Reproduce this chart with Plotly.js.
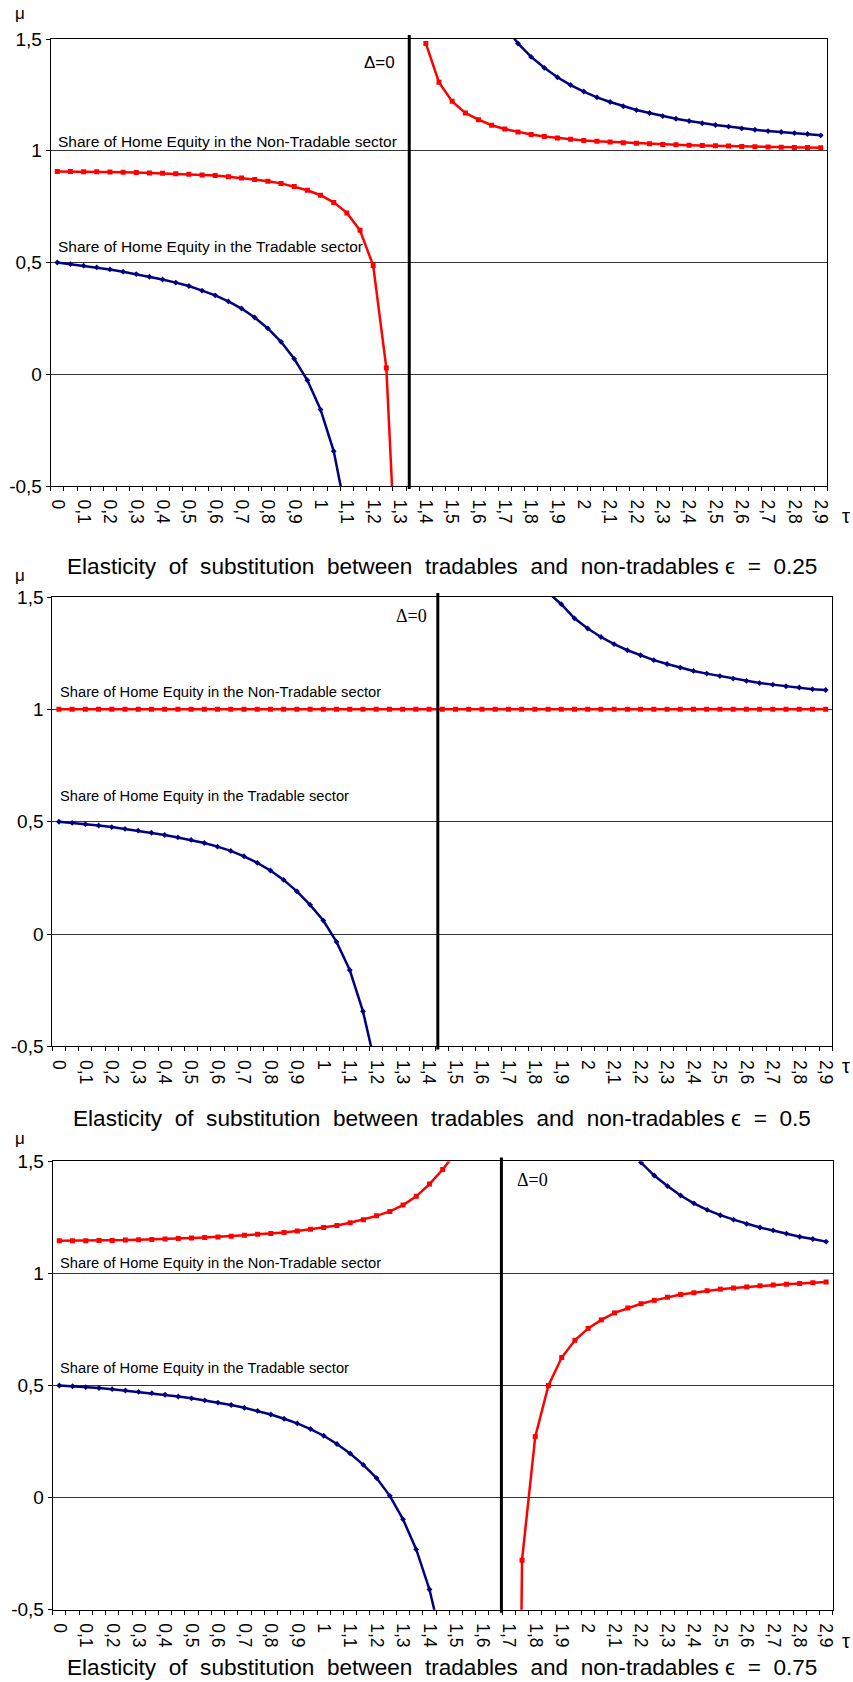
<!DOCTYPE html>
<html>
<head>
<meta charset="utf-8">
<script src="https://cdn.plot.ly/plotly-3.0.1.min.js"></script>
<style>
html,body{margin:0;padding:0;background:#ffffff;}
#chart{width:853px;height:1682px;}
</style>
</head>
<body>
<div id="chart"></div>
<script>
// ---------- data ----------
const tau = [0,0.05,0.1,0.15,0.2,0.25,0.3,0.35,0.4,0.45,0.5,0.55,0.6,0.65,0.7,0.75,0.8,0.85,0.9,0.95,
             1,1.05,1.1,1.15,1.2,1.25,1.3,1.35,1.4,1.45,1.5,1.55,1.6,1.65,1.7,1.75,1.8,1.85,1.9,1.95,
             2,2.05,2.1,2.15,2.2,2.25,2.3,2.35,2.4,2.45,2.5,2.55,2.6,2.65,2.7,2.75,2.8,2.85,2.9];

const xTickVals = [0,0.1,0.2,0.3,0.4,0.5,0.6,0.7,0.8,0.9,1,1.1,1.2,1.3,1.4,1.5,1.6,1.7,1.8,1.9,
                   2,2.1,2.2,2.3,2.4,2.5,2.6,2.7,2.8,2.9];
const xTickText = ['0','0,1','0,2','0,3','0,4','0,5','0,6','0,7','0,8','0,9',
                   '1','1,1','1,2','1,3','1,4','1,5','1,6','1,7','1,8','1,9',
                   '2','2,1','2,2','2,3','2,4','2,5','2,6','2,7','2,8','2,9'];
const yTickVals = [-0.5,0,0.5,1,1.5];
const yTickText = ['-0,5','0','0,5','1','1,5'];

const elasticity = ['0.25','0.5','0.75'];
const deltaZero = [1.337,1.433,1.672];

// epsilon = 0.25
const p1Tradable = [0.500,0.493,0.486,0.478,0.469,0.459,0.448,0.436,0.424,0.410,0.395,0.374,0.353,0.326,0.294,0.254,0.205,0.145,0.069,-0.027,
  -0.158,-0.344,-0.64,null,null,null,null,null,null,null,null,null,null,null,1.56,1.48,1.420,1.371,1.329,1.294,
  1.265,1.239,1.218,1.199,1.182,1.169,1.155,1.143,1.133,1.123,1.115,1.108,1.100,1.094,1.088,1.084,1.079,1.075,1.069];
const p1NonTradable = [0.907,0.907,0.906,0.906,0.905,0.904,0.903,0.901,0.899,0.897,0.895,0.892,0.889,0.884,0.878,0.871,0.864,0.854,0.840,0.823,
  0.801,0.769,0.722,0.644,0.486,0.028,-1.2,null,1.480,1.306,1.221,1.169,1.139,1.114,1.097,1.084,1.073,1.064,1.057,1.051,
  1.046,1.042,1.039,1.036,1.033,1.031,1.028,1.027,1.025,1.024,1.022,1.021,1.019,1.018,1.017,1.016,1.015,1.014,1.013];

// epsilon = 0.5
const p2Tradable = [0.500,0.495,0.489,0.483,0.476,0.468,0.460,0.451,0.441,0.430,0.419,0.405,0.389,0.370,0.346,0.317,0.283,0.241,0.190,0.130,
  0.060,-0.035,-0.160,-0.344,-0.60,null,null,null,null,null,null,null,null,null,null,null,null,1.52,1.468,1.405,
  1.360,1.322,1.290,1.263,1.241,1.219,1.202,1.186,1.171,1.159,1.148,1.137,1.127,1.117,1.110,1.103,1.097,1.090,1.086];
const p2NonTradable = [1,1,1,1,1,1,1,1,1,1,1,1,1,1,1,1,1,1,1,1,
  1,1,1,1,1,1,1,1,1,1,1,1,1,1,1,1,1,1,1,1,
  1,1,1,1,1,1,1,1,1,1,1,1,1,1,1,1,1,1,1];

// epsilon = 0.75
const p3Tradable = [0.500,0.497,0.493,0.489,0.484,0.478,0.472,0.466,0.459,0.451,0.443,0.434,0.424,0.413,0.401,0.387,0.371,0.352,0.331,0.306,
  0.276,0.239,0.197,0.146,0.087,0.008,-0.097,-0.231,-0.41,-0.66,null,null,null,null,null,null,null,null,null,null,
  null,null,null,1.57,1.495,1.437,1.390,1.348,1.313,1.284,1.260,1.240,1.221,1.205,1.192,1.178,1.164,1.154,1.142];
const p3NonTradable = [1.146,1.146,1.146,1.147,1.147,1.149,1.151,1.152,1.154,1.156,1.158,1.161,1.163,1.166,1.170,1.175,1.178,1.183,1.190,1.197,
  1.205,1.214,1.226,1.240,1.257,1.277,1.305,1.344,1.399,1.464,1.54,null,null,null,-6,-0.279,0.272,0.500,0.625,0.702,
  0.755,0.793,0.824,0.846,0.865,0.880,0.894,0.906,0.914,0.923,0.930,0.935,0.940,0.945,0.949,0.952,0.955,0.959,0.962];

const tradableSeries = [p1Tradable, p2Tradable, p3Tradable];
const nonTradableSeries = [p1NonTradable, p2NonTradable, p3NonTradable];

const labelNT = 'Share of Home Equity in the Non-Tradable sector';
const labelT = 'Share of Home Equity in the Tradable sector';
const captionBase = 'Elasticity\u00A0 of\u00A0 substitution\u00A0 between\u00A0 tradables\u00A0 and\u00A0 non-tradables\u00A0\u03f5 \u00A0=\u00A0 ';

// ---------- layout geometry (pixels) ----------
const W = 853, H = 1682;
const fx = v => v / W;
const fy = v => 1 - v / H;
const SANS = 'Liberation Sans, Arial, Helvetica, sans-serif';
const SERIF = 'Liberation Serif, Times New Roman, serif';

const panels = [
  {l:50.7, r:827.3, t:39,    b:486,    mu:[20,14],   tauL:[846,516],  delta:[379,62],   deltaFont:SANS,  deltaSize:17,
   nt:[56.7,141.7], tr:[56.7,246.7], lblSize:15.5, cap:[442,566.8]},
  {l:52.3, r:832.3, t:597,   b:1046.4, mu:[20,576],  tauL:[846,1066], delta:[411,616],  deltaFont:SERIF, deltaSize:18,
   nt:[59.3,691.8], tr:[59.3,796.4], lblSize:14.7, cap:[442,1118.4]},
  {l:52.7, r:832.7, t:1161.4,b:1609.7, mu:[20,1138], tauL:[846,1641], delta:[532,1180], deltaFont:SERIF, deltaSize:18,
   nt:[59.3,1263.1], tr:[59.3,1367.9], lblSize:14.7, cap:[442,1667.3]}
];

const data = [];
const layout = {
  width: W, height: H, autosize: false,
  margin: {l:0, r:0, t:0, b:0, pad:0},
  paper_bgcolor: '#ffffff', plot_bgcolor: '#ffffff',
  showlegend: false,
  font: {family: SANS, color: '#000000'},
  annotations: [], shapes: []
};

panels.forEach((p, i) => {
  const s = i === 0 ? '' : String(i + 1);
  const xa = 'x' + s, ya = 'y' + s;

  data.push({
    x: tau, y: tradableSeries[i], xaxis: xa, yaxis: ya,
    type: 'scatter', mode: 'lines+markers', connectgaps: false,
    line: {color: '#000080', width: 2.5},
    marker: {symbol: 'diamond', size: 4.5, color: '#000080'},
    hoverinfo: 'skip'
  });
  data.push({
    x: tau, y: nonTradableSeries[i], xaxis: xa, yaxis: ya,
    type: 'scatter', mode: 'lines+markers', connectgaps: false,
    line: {color: '#ff0000', width: 2.5},
    marker: {symbol: 'square', size: 5, color: '#ff0000'},
    hoverinfo: 'skip'
  });

  layout['xaxis' + s] = {
    domain: [fx(p.l), fx(p.r)], anchor: ya,
    range: [-0.025, 2.925], fixedrange: true,
    tickmode: 'array', tickvals: xTickVals, ticktext: xTickText,
    tickangle: 90, ticks: 'outside', ticklen: 4, tickcolor: 'rgba(0,0,0,0)',
    ticklabelstandoff: 5,
    tickfont: {family: SANS, size: 17.5, color: '#000000'},
    minor: {tickmode: 'linear', tick0: -0.025, dtick: 0.05, ticks: 'outside', ticklen: 4,
            tickwidth: 1, tickcolor: '#000000', showgrid: false},
    showline: true, linecolor: '#000000', linewidth: 1, mirror: true,
    showgrid: false, zeroline: false
  };
  layout['yaxis' + s] = {
    domain: [fy(p.b), fy(p.t)], anchor: xa,
    range: [-0.5, 1.5], fixedrange: true,
    tickmode: 'array', tickvals: yTickVals, ticktext: yTickText,
    ticks: 'outside', ticklen: 4, tickwidth: 1, tickcolor: '#000000',
    tickfont: {family: SANS, size: 19, color: '#000000'},
    showline: true, linecolor: '#000000', linewidth: 1, mirror: true,
    showgrid: true, gridcolor: '#333333', gridwidth: 1, zeroline: false
  };

  // Delta = 0 vertical line
  layout.shapes.push({
    type: 'line', xref: xa, yref: 'paper',
    x0: deltaZero[i], x1: deltaZero[i], y0: fy(p.b + 3), y1: fy(p.t - 4),
    line: {color: '#000000', width: 3}, layer: 'above'
  });

  const ann = (x, y, text, opts) => Object.assign({
    xref: 'paper', yref: 'paper', x: fx(x), y: fy(y), text: text,
    showarrow: false, xanchor: 'center', yanchor: 'middle', borderpad: 0,
    font: {family: SANS, size: 16, color: '#000000'}
  }, opts || {});

  layout.annotations.push(ann(p.mu[0], p.mu[1], '\u03bc', {font: {family: SANS, size: 17, color: '#000000'}}));
  layout.annotations.push(ann(p.tauL[0], p.tauL[1], '\u03c4', {font: {family: SANS, size: 20, color: '#000000'}}));
  layout.annotations.push(ann(p.delta[0], p.delta[1], '\u0394=0', {font: {family: p.deltaFont, size: p.deltaSize, color: '#000000'}}));
  layout.annotations.push(ann(p.nt[0], p.nt[1], labelNT, {xanchor: 'left', font: {family: SANS, size: p.lblSize, color: '#000000'}}));
  layout.annotations.push(ann(p.tr[0], p.tr[1], labelT, {xanchor: 'left', font: {family: SANS, size: p.lblSize, color: '#000000'}}));
  layout.annotations.push(ann(p.cap[0], p.cap[1], captionBase + elasticity[i], {font: {family: SANS, size: 22.6, color: '#000000'}}));
});

Plotly.newPlot('chart', data, layout, {displayModeBar: false, staticPlot: true});
</script>
</body>
</html>
